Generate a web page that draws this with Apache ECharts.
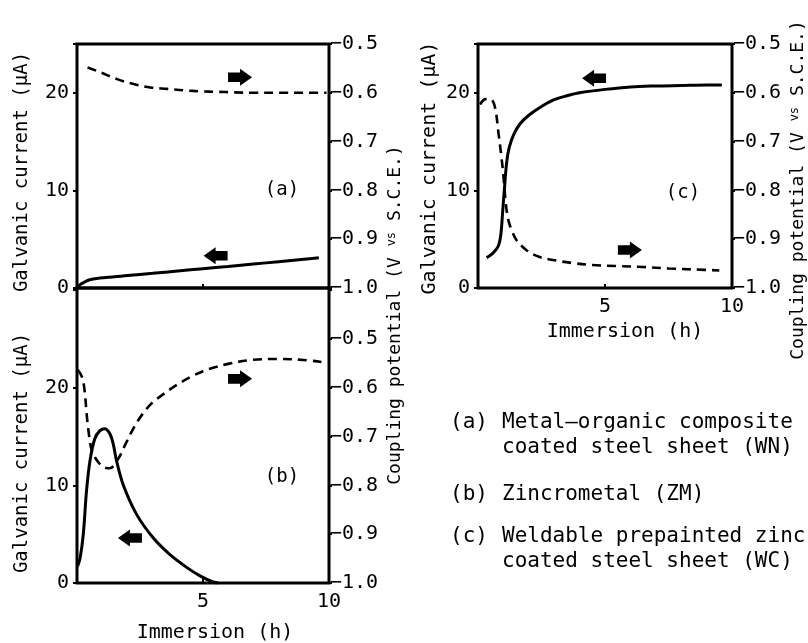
<!DOCTYPE html>
<html><head><meta charset="utf-8">
<script src="https://cdn.jsdelivr.net/npm/echarts@6/dist/echarts.min.js"></script>
<style>html,body{margin:0;padding:0;background:#fff}#c{width:808px;height:643px}</style>
</head><body><div id="c"></div>
<script>
const FONT = '"DejaVu Sans Mono", monospace';

// ---- Panel (a): Metal-organic composite coated steel sheet (WN)
const aCurT = [0, 0.1, 0.26, 0.5, 0.9, 1.5, 2, 3, 4, 5, 6, 7, 8, 9, 9.6];
const aCur  = [0, 0.3, 0.55, 0.85, 1.02, 1.15, 1.28, 1.5, 1.75, 1.98, 2.2, 2.45, 2.7, 2.95, 3.1];
const aPotT = [0.42, 0.93, 1.59, 2.25, 2.91, 3.58, 4.24, 4.9, 5.56, 6.2, 7, 8, 9, 9.9];
const aPot  = [-0.548, -0.558, -0.572, -0.582, -0.589, -0.592, -0.595, -0.597, -0.598, -0.599, -0.6, -0.6, -0.6, -0.6];

// ---- Panel (b): Zincrometal (ZM)
const bCurT = [0.02, 0.12, 0.25, 0.38, 0.52, 0.71, 0.91, 1.1, 1.3, 1.44, 1.57, 1.84, 2.37, 3.03, 3.69, 4.35, 4.9, 5.4, 5.6];
const bCur  = [1.7, 2.5, 5.0, 9.5, 12.6, 14.8, 15.6, 15.8, 15.3, 14.2, 12.5, 10.0, 7.0, 4.6, 2.9, 1.6, 0.7, 0.1, 0];
const bPotT = [0.03, 0.2, 0.3, 0.38, 0.45, 0.58, 0.78, 1.04, 1.3, 1.64, 1.91, 2.24, 2.57, 2.96, 3.43, 3.96, 4.5, 5.0, 5.4, 6.0, 6.9, 8.0, 9.0, 9.7];
const bPot  = [-0.563, -0.578, -0.605, -0.652, -0.686, -0.727, -0.748, -0.762, -0.765, -0.745, -0.717, -0.683, -0.656, -0.632, -0.613, -0.594, -0.578, -0.566, -0.559, -0.551, -0.543, -0.541, -0.543, -0.547];

// ---- Panel (c): Weldable prepainted zinc coated steel sheet (WC)
const cCurT = [0.34, 0.6, 0.8, 0.9, 0.97, 1.05, 1.13, 1.23, 1.4, 1.65, 2.0, 2.5, 3.0, 3.5, 4.0, 5.0, 6.0, 7.0, 8.0, 9.0, 9.6];
const cCur  = [3.1, 3.6, 4.3, 5.5, 7.8, 10.5, 12.9, 14.4, 15.7, 16.8, 17.7, 18.6, 19.3, 19.7, 20.0, 20.35, 20.6, 20.7, 20.75, 20.8, 20.8];
const cPotT = [0.08, 0.3, 0.5, 0.67, 0.8, 0.93, 1.0, 1.1, 1.2, 1.33, 1.52, 1.9, 2.4, 3.1, 3.75, 4.5, 5.5, 6.5, 7.5, 8.5, 9.5];
const cPot  = [-0.624, -0.613, -0.613, -0.63, -0.68, -0.735, -0.77, -0.83, -0.862, -0.882, -0.902, -0.922, -0.936, -0.944, -0.949, -0.953, -0.955, -0.957, -0.96, -0.962, -0.964];

// ---- tick labels
const currentTicks = [0, 10, 20];
const potentialTicks = [-1.0, -0.9, -0.8, -0.7, -0.6, -0.5];
const timeTicks = [5, 10];

// ---- direction arrows (data coords on the current axis): [time, current, dir]
const aArrows = [[6.47, 21.6, 'r'], [5.5, 3.3, 'l']];
const bArrows = [[6.47, 20.9, 'r'], [2.1, 4.6, 'l']];
const cArrows = [[4.57, 21.5, 'l'], [5.98, 3.9, 'r']];

const zip = (t, v) => t.map((x, i) => [x, v[i]]);
const RIGHT = 'path://M0,3.5 L11,3.5 L11,0 L22,8 L11,16 L11,12.5 L0,12.5 Z';
const LEFT  = 'path://M22,3.5 L11,3.5 L11,0 L0,8 L11,16 L11,12.5 L22,12.5 Z';

const gridBase = {show: true, borderColor: '#000', borderWidth: 3, backgroundColor: 'transparent'};
const grids = [
  Object.assign({left: 77, top: 44, width: 252, height: 244}, gridBase),
  Object.assign({left: 77, top: 288, width: 252, height: 295}, gridBase),
  Object.assign({left: 478, top: 44, width: 254, height: 244}, gridBase)
];

function xAx(g, labels) {
  return {
    type: 'value', gridIndex: g, min: 0, max: 10, interval: 5,
    axisLine: {show: false}, splitLine: {show: false},
    axisTick: {show: true, inside: true, length: 4, lineStyle: {color: '#000', width: 2}},
    axisLabel: {show: labels, color: '#000', fontFamily: FONT, fontSize: 20, margin: 9,
      formatter: v => timeTicks.includes(v) ? String(v) : ''}
  };
}
function yLeft(g, max) {
  return {
    type: 'value', gridIndex: g, position: 'left', min: 0, max: max, interval: 10,
    axisLine: {show: false}, splitLine: {show: false},
    axisTick: {show: true, inside: false, length: 4, lineStyle: {color: '#000', width: 2}},
    axisLabel: {color: '#000', fontFamily: FONT, fontSize: 20, margin: 8,
      formatter: v => currentTicks.includes(v) ? String(v) : ''}
  };
}
function yRight(g, max) {
  return {
    type: 'value', gridIndex: g, position: 'right', min: -1, max: max, interval: 0.1,
    axisLine: {show: false}, splitLine: {show: false},
    axisTick: {show: true, inside: false, length: 3, lineStyle: {color: '#000', width: 2}},
    axisLabel: {color: '#000', fontFamily: FONT, fontSize: 20, margin: 1,
      formatter: v => {
        const r = Math.round(v * 10) / 10;
        return potentialTicks.includes(r) ? '\u2212' + Math.abs(r).toFixed(1) : '';
      }}
  };
}

function lineSeries(xi, yi, t, v, dashed) {
  return {
    type: 'line', xAxisIndex: xi, yAxisIndex: yi, data: zip(t, v),
    showSymbol: false, smooth: 0.35, silent: true, z: 3,
    lineStyle: dashed ? {color: '#000', width: 2.6, type: [9, 6]} : {color: '#000', width: 3}
  };
}
function arrowSeries(xi, yi, arr) {
  return {
    type: 'scatter', xAxisIndex: xi, yAxisIndex: yi, silent: true, z: 4,
    symbolSize: [24, 17], itemStyle: {color: '#000', opacity: 1},
    data: arr.map(a => ({value: [a[0], a[1]], symbol: a[2] === 'r' ? RIGHT : LEFT}))
  };
}

function vtext(x, y, txt, size) {
  return {type: 'text', x: x, y: y, rotation: Math.PI / 2,
    style: {text: txt, fill: '#000', font: size + 'px ' + FONT, align: 'center', verticalAlign: 'middle'}};
}
function rtextCoupling(x, y, size) {
  return {type: 'text', x: x, y: y, rotation: Math.PI / 2,
    style: {text: '{n|Coupling potential (V }{s|vs}{n| S.C.E.)}', align: 'center', verticalAlign: 'middle',
      rich: {n: {fontFamily: FONT, fontSize: size, fill: '#000', color: '#000'},
             s: {fontFamily: FONT, fontSize: 12, fill: '#000', color: '#000', verticalAlign: 'top'}}}};
}
function htext(x, y, txt, size, align) {
  return {type: 'text', x: x, y: y,
    style: {text: txt, fill: '#000', font: size + 'px ' + FONT, align: align || 'left', verticalAlign: 'middle'}};
}

const option = {
  backgroundColor: '#fff',
  animation: false,
  grid: grids,
  xAxis: [xAx(0, false), xAx(1, true), xAx(2, true)],
  yAxis: [yLeft(0, 25), yRight(0, -0.5), yLeft(1, 30.2), yRight(1, -0.3955), yLeft(2, 25), yRight(2, -0.5)],
  series: [
    lineSeries(0, 0, aCurT, aCur, false), lineSeries(0, 1, aPotT, aPot, true), arrowSeries(0, 0, aArrows),
    lineSeries(1, 2, bCurT, bCur, false), lineSeries(1, 3, bPotT, bPot, true), arrowSeries(1, 2, bArrows),
    lineSeries(2, 4, cCurT, cCur, false), lineSeries(2, 5, cPotT, cPot, true), arrowSeries(2, 4, cArrows)
  ],
  graphic: [
    vtext(22, 172, 'Galvanic current (\u03bcA)', 19),
    vtext(22, 453, 'Galvanic current (\u03bcA)', 19),
    vtext(430, 168, 'Galvanic current (\u03bcA)', 20),
    rtextCoupling(395, 315, 18),
    rtextCoupling(798, 190, 18),
    htext(215, 633, 'Immersion (h)', 20, 'center'),
    htext(625, 332, 'Immersion (h)', 20, 'center'),
    htext(282, 190, '(a)', 19, 'center'),
    htext(282, 477, '(b)', 19, 'center'),
    htext(683, 193, '(c)', 19, 'center'),
    htext(450, 423, '(a)', 21),
    htext(502, 423, 'Metal\u2013organic composite', 21),
    htext(502, 448, 'coated steel sheet (WN)', 21),
    htext(450, 495, '(b)', 21),
    htext(502, 495, 'Zincrometal (ZM)', 21),
    htext(450, 537, '(c)', 21),
    htext(502, 537, 'Weldable prepainted zinc', 21),
    htext(502, 562, 'coated steel sheet (WC)', 21)
  ]
};
echarts.init(document.getElementById('c'), null, {renderer: 'canvas'}).setOption(option);
</script></body></html>
